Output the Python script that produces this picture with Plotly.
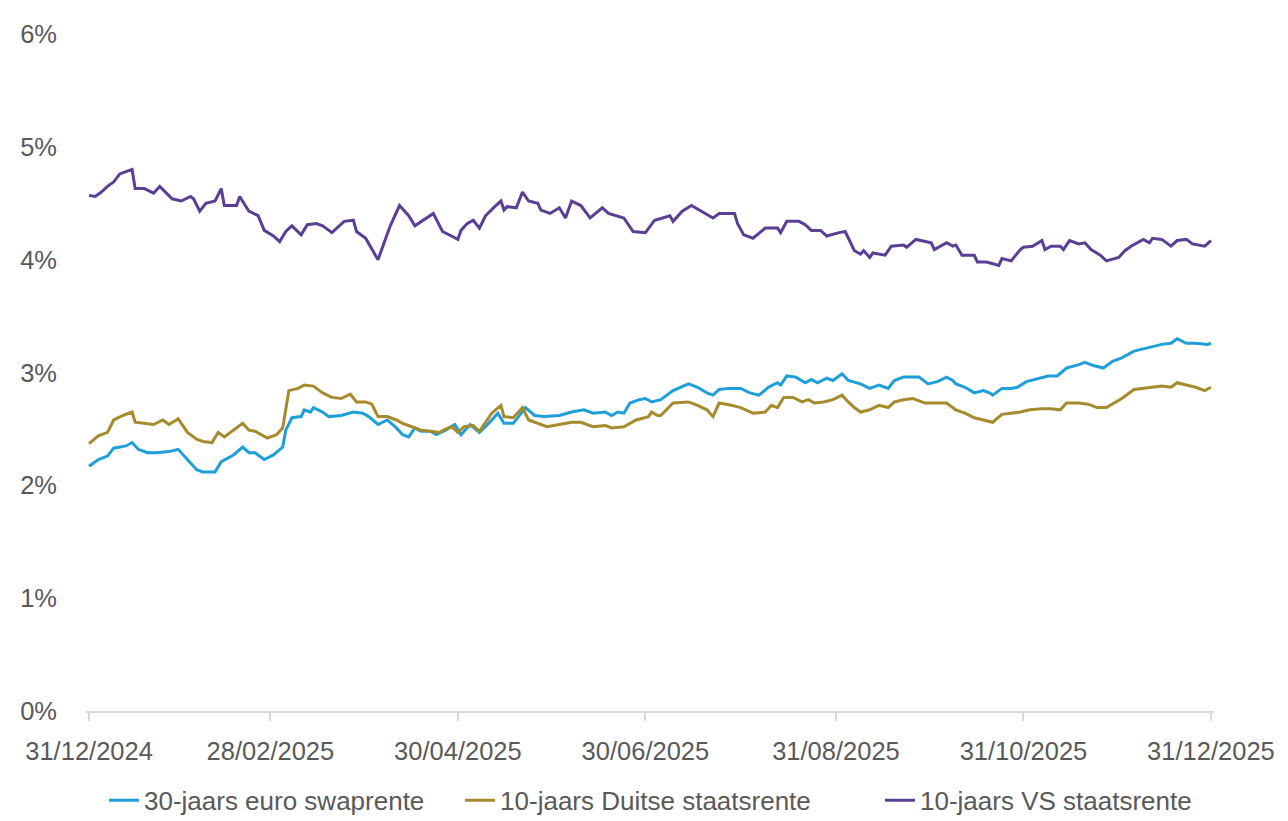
import pandas as pd
import plotly.graph_objects as go

START = pd.Timestamp("2024-12-31")

# ---- 30-jaars euro swaprente (days since 31/12/2024, %)
swap_days = [0, 3, 6, 8, 12, 14, 16, 19, 22, 26, 29, 32, 35, 37, 41, 43, 47, 50, 52, 54, 57, 60, 63, 64,
             66, 69, 70, 72, 73, 76, 78, 82, 86, 89, 91, 94, 97, 100, 102, 104, 106, 108, 111, 113, 116,
             119, 121, 124, 127, 130, 133, 135, 138, 142, 145, 148, 153, 157, 161, 164, 168, 170, 172,
             174, 176, 179, 181, 183, 186, 190, 195, 198, 201, 203, 205, 208, 212, 215, 218, 221, 224,
             225, 227, 230, 233, 235, 237, 240, 242, 245, 247, 251, 254, 257, 260, 262, 265, 270, 273,
             276, 279, 281, 282, 285, 288, 291, 293, 294, 297, 300, 302, 305, 309, 312, 315, 318, 322,
             324, 327, 330, 333, 336, 340, 343, 346, 349, 352, 354, 357, 360, 364, 365]
swap_vals = [2.17, 2.23, 2.26, 2.33, 2.35, 2.38, 2.32, 2.29, 2.29, 2.30, 2.32, 2.23, 2.14, 2.12, 2.12, 2.21,
             2.27, 2.34, 2.29, 2.29, 2.23, 2.27, 2.34, 2.49, 2.60, 2.61, 2.67, 2.65, 2.69, 2.65, 2.61,
             2.62, 2.65, 2.64, 2.61, 2.54, 2.58, 2.51, 2.45, 2.43, 2.51, 2.48, 2.48, 2.45, 2.49, 2.54,
             2.45, 2.54, 2.47, 2.55, 2.64, 2.55, 2.55, 2.69, 2.62, 2.61, 2.62, 2.65, 2.67, 2.64, 2.65,
             2.62, 2.65, 2.64, 2.73, 2.76, 2.77, 2.74, 2.76, 2.84, 2.90, 2.87, 2.82, 2.80, 2.85, 2.86,
             2.86, 2.82, 2.80, 2.87, 2.91, 2.89, 2.97, 2.96, 2.91, 2.94, 2.91, 2.95, 2.93, 2.99, 2.93,
             2.90, 2.86, 2.89, 2.86, 2.93, 2.96, 2.96, 2.90, 2.92, 2.96, 2.93, 2.90, 2.87, 2.82, 2.84,
             2.82, 2.80, 2.86, 2.86, 2.87, 2.92, 2.95, 2.97, 2.97, 3.04, 3.07, 3.09, 3.06, 3.04, 3.10,
             3.13, 3.19, 3.21, 3.23, 3.25, 3.26, 3.30, 3.26, 3.26, 3.25, 3.26]

# ---- 10-jaars Duitse staatsrente
bund_days = [0, 3, 6, 8, 11, 14, 15, 18, 21, 24, 26, 29, 32, 35, 37, 40, 42, 44, 47, 50, 52, 54, 58, 61,
             63, 65, 68, 70, 73, 76, 79, 82, 85, 87, 90, 92, 94, 97, 100, 102, 105, 108, 111, 114, 116,
             118, 120, 122, 125, 127, 129, 131, 134, 135, 138, 141, 143, 146, 149, 153, 157, 160, 164,
             168, 170, 174, 178, 182, 183, 185, 186, 190, 195, 198, 201, 203, 205, 209, 212, 216, 220,
             222, 224, 226, 229, 232, 234, 236, 239, 242, 245, 247, 249, 251, 254, 257, 260, 262, 265,
             268, 272, 276, 279, 282, 285, 288, 291, 294, 297, 300, 303, 306, 310, 313, 316, 318, 322,
             325, 328, 331, 334, 336, 340, 343, 346, 349, 352, 354, 357, 360, 363, 365]
bund_vals = [2.37, 2.44, 2.47, 2.58, 2.62, 2.65, 2.56, 2.55, 2.54, 2.58, 2.54, 2.59, 2.47, 2.41, 2.39, 2.38,
             2.47, 2.43, 2.49, 2.55, 2.49, 2.48, 2.42, 2.45, 2.51, 2.84, 2.86, 2.89, 2.88, 2.82, 2.78,
             2.77, 2.81, 2.74, 2.74, 2.72, 2.61, 2.61, 2.58, 2.55, 2.52, 2.49, 2.48, 2.47, 2.50, 2.52,
             2.47, 2.52, 2.53, 2.48, 2.56, 2.64, 2.71, 2.61, 2.60, 2.69, 2.58, 2.55, 2.52, 2.54, 2.56,
             2.56, 2.52, 2.53, 2.51, 2.52, 2.58, 2.61, 2.65, 2.62, 2.62, 2.73, 2.74, 2.71, 2.67, 2.61,
             2.73, 2.71, 2.69, 2.64, 2.65, 2.71, 2.69, 2.78, 2.78, 2.74, 2.76, 2.73, 2.74, 2.76, 2.80,
             2.74, 2.69, 2.65, 2.67, 2.71, 2.69, 2.74, 2.76, 2.77, 2.73, 2.73, 2.73, 2.67, 2.64, 2.60,
             2.58, 2.56, 2.63, 2.64, 2.65, 2.67, 2.68, 2.68, 2.67, 2.73, 2.73, 2.72, 2.69, 2.69, 2.74,
             2.77, 2.85, 2.86, 2.87, 2.88, 2.87, 2.91, 2.89, 2.87, 2.84, 2.87]

# ---- 10-jaars VS staatsrente
ust_days = [0, 2, 4, 6, 8, 10, 12, 14, 15, 18, 21, 23, 27, 30, 33, 34, 36, 38, 41, 43, 44, 48, 49, 52, 55,
            57, 60, 62, 64, 66, 69, 71, 74, 76, 79, 83, 86, 87, 90, 94, 98, 101, 104, 106, 112, 115, 120,
            121, 123, 125, 127, 129, 132, 134, 135, 136, 139, 141, 143, 146, 147, 150, 153, 155, 157,
            160, 163, 167, 169, 174, 177, 181, 184, 189, 190, 193, 196, 199, 203, 205, 210, 211, 213,
            216, 220, 224, 225, 227, 231, 233, 235, 238, 240, 244, 246, 249, 251, 252, 254, 255, 259,
            261, 265, 266, 269, 274, 275, 279, 281, 282, 284, 288, 289, 292, 296, 297, 300, 303, 304,
            307, 310, 311, 313, 316, 317, 319, 322, 324, 326, 329, 331, 335, 337, 339, 343, 345, 346,
            349, 352, 354, 357, 359, 363, 365]
ust_vals = [4.57, 4.56, 4.60, 4.65, 4.69, 4.76, 4.78, 4.80, 4.63, 4.63, 4.59, 4.65, 4.54, 4.52, 4.56, 4.54,
            4.43, 4.50, 4.52, 4.63, 4.48, 4.48, 4.56, 4.43, 4.39, 4.26, 4.21, 4.16, 4.25, 4.30, 4.22,
            4.31, 4.32, 4.30, 4.24, 4.34, 4.35, 4.25, 4.19, 4.00, 4.30, 4.48, 4.39, 4.30, 4.41, 4.25,
            4.18, 4.26, 4.32, 4.35, 4.28, 4.39, 4.47, 4.52, 4.44, 4.47, 4.46, 4.60, 4.52, 4.50, 4.44,
            4.41, 4.46, 4.37, 4.52, 4.48, 4.37, 4.46, 4.41, 4.37, 4.25, 4.24, 4.35, 4.39, 4.34, 4.43,
            4.48, 4.43, 4.37, 4.41, 4.41, 4.32, 4.22, 4.19, 4.28, 4.28, 4.24, 4.34, 4.34, 4.31, 4.26,
            4.26, 4.21, 4.24, 4.25, 4.08, 4.05, 4.08, 4.02, 4.06, 4.04, 4.12, 4.13, 4.11, 4.18, 4.15,
            4.09, 4.15, 4.12, 4.13, 4.04, 4.04, 3.98, 3.98, 3.95, 4.01, 3.99, 4.09, 4.11, 4.12, 4.17,
            4.09, 4.12, 4.12, 4.09, 4.17, 4.14, 4.15, 4.09, 4.04, 3.99, 4.02, 4.08, 4.12, 4.18, 4.15,
            4.19, 4.18, 4.12, 4.17, 4.18, 4.14, 4.12, 4.17]

series_names = ["30-jaars euro swaprente", "10-jaars Duitse staatsrente", "10-jaars VS staatsrente"]
series_colors = ["#1F9FD9", "#A68B2C", "#5B3F95"]

x_tick_dates = ["2024-12-31", "2025-02-28", "2025-04-30", "2025-06-30",
                "2025-08-31", "2025-10-31", "2025-12-31"]
y_tick_vals = [0, 1, 2, 3, 4, 5, 6]
y_tick_text = ["0%", "1%", "2%", "3%", "4%", "5%", "6%"]


def to_dates(days):
    return START + pd.to_timedelta(days, unit="D")


FONT = "Liberation Sans, Arial, sans-serif"
GREY = "#595959"

fig = go.Figure()
legend_ids = ["legend", "legend2", "legend3"]
for days, vals, name, color, lg in [
    (swap_days, swap_vals, series_names[0], series_colors[0], legend_ids[0]),
    (bund_days, bund_vals, series_names[1], series_colors[1], legend_ids[1]),
    (ust_days, ust_vals, series_names[2], series_colors[2], legend_ids[2]),
]:
    fig.add_trace(go.Scatter(x=to_dates(days), y=vals, mode="lines", name=name,
                             line=dict(color=color, width=3), legend=lg))

# legend entries laid out along the bottom (container fractions)
legend_x = [0.0745, 0.351, 0.677]
legend_common = dict(orientation="h", xref="container", yref="container",
                     xanchor="left", y=0.035, yanchor="middle",
                     font=dict(family=FONT, size=26, color=GREY),
                     itemwidth=30, bgcolor="rgba(0,0,0,0)")

fig.update_layout(
    width=1288, height=821,
    paper_bgcolor="white", plot_bgcolor="white",
    margin=dict(l=75, r=82, t=20, b=113),
    font=dict(family=FONT, size=25.5, color=GREY),
    showlegend=True,
    legend=dict(x=legend_x[0], **legend_common),
    legend2=dict(x=legend_x[1], **legend_common),
    legend3=dict(x=legend_x[2], **legend_common),
)
fig.update_xaxes(
    type="date",
    range=["2024-12-30", "2026-01-01"],
    tickvals=x_tick_dates,
    tickformat="%d/%m/%Y",
    showgrid=False, zeroline=False,
    showline=True, linecolor="#D9D9D9", linewidth=2,
    ticks="outside", ticklen=8, tickcolor="#D9D9D9", tickwidth=2,
    ticklabelstandoff=8,
    tickfont=dict(family=FONT, size=25.5, color=GREY),
)
fig.update_yaxes(
    range=[0, 6],
    tickvals=y_tick_vals,
    ticktext=y_tick_text,
    showgrid=False, zeroline=False, showline=False,
    ticklabelstandoff=28,
    tickfont=dict(family=FONT, size=25.5, color=GREY),
)

fig.write_html("out.html")
